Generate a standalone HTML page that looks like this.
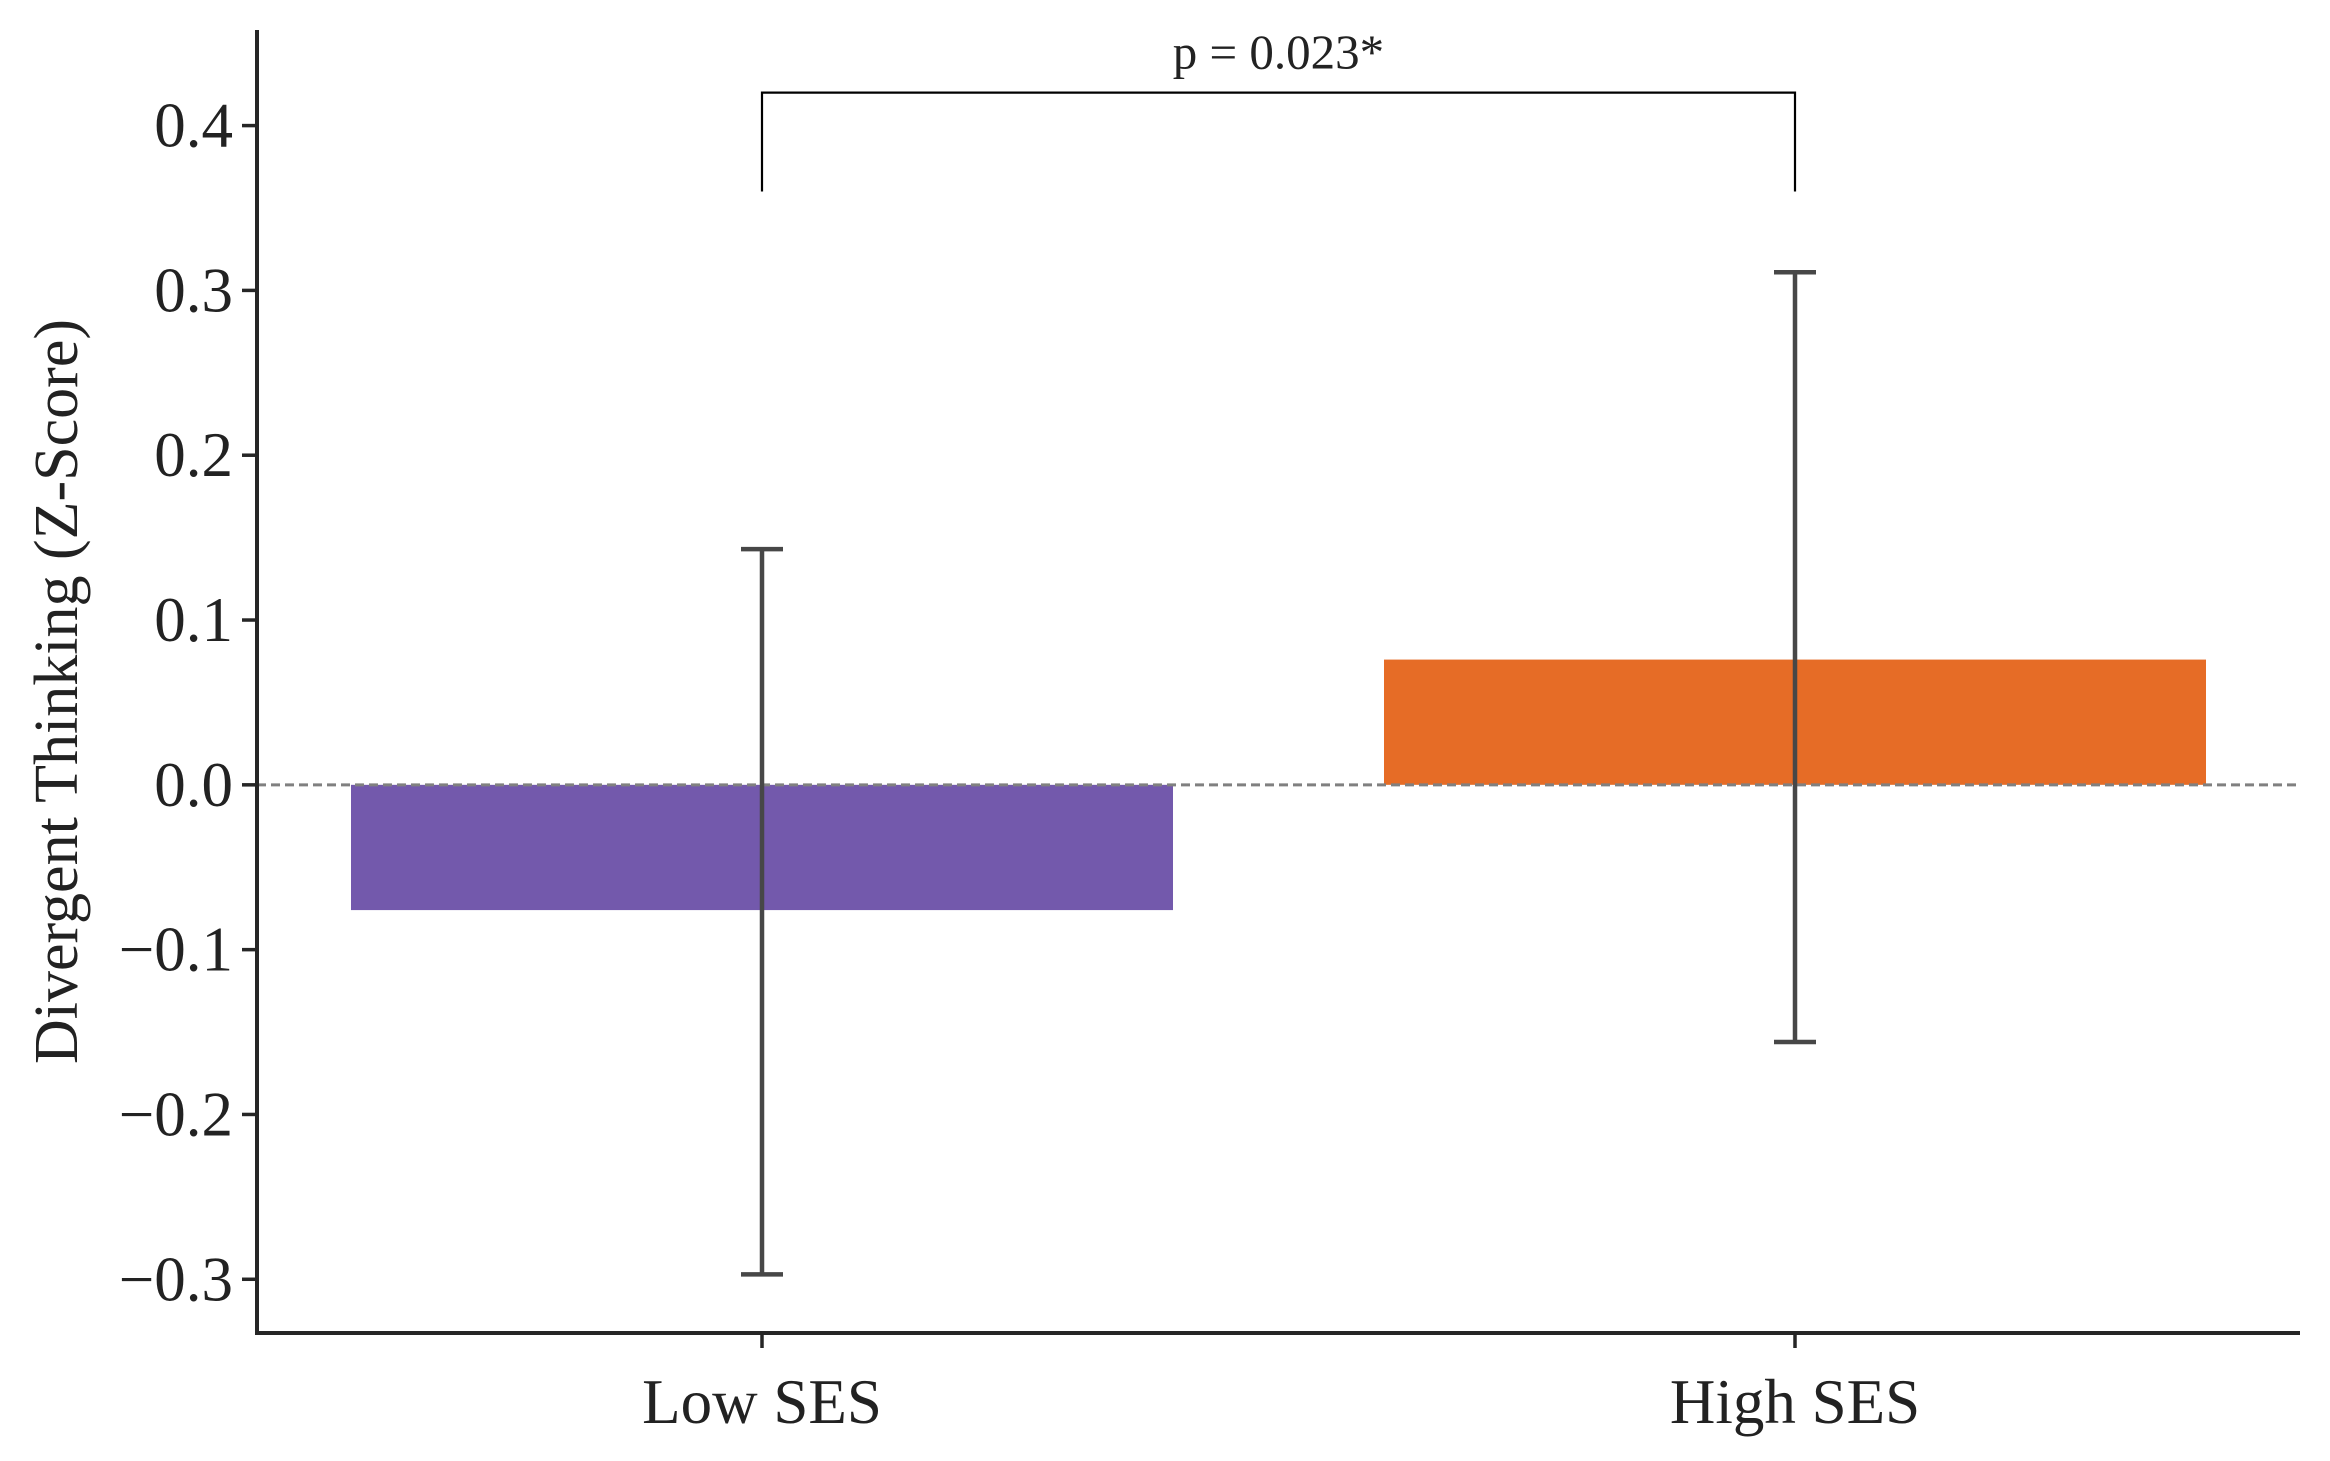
<!DOCTYPE html>
<html><head><meta charset="utf-8"><style>
html,body{margin:0;padding:0;background:#fff}
svg{display:block;font-family:"Liberation Serif",serif}
</style></head><body>
<svg id="chart" width="2330" height="1461" viewBox="0 0 2330 1461">
<g id="marks"></g>
</svg>
<script>
const categories = ["Low SES", "High SES"];
const means = [-0.076, 0.076];
const errLow = [-0.297, -0.156];
const errHigh = [0.143, 0.311];
const colors = ["#7359ac", "#e66c26"];
const yTicks = [-0.3, -0.2, -0.1, 0.0, 0.1, 0.2, 0.3, 0.4];
const yTickLabels = ["\u22120.3", "\u22120.2", "\u22120.1", "0.0", "0.1", "0.2", "0.3", "0.4"];
const pLabel = "p = 0.023*";
const bracketTop = 0.42, bracketBottom = 0.36;

const NS = "http://www.w3.org/2000/svg";
const svg = document.getElementById("chart");
const L = 257, R = 2300, T = 30, B = 1333;
const yMin = -0.3326, yMax = 0.458;
const y = v => B - (v - yMin) / (yMax - yMin) * (B - T);
const xc = i => 762 + i * (1795 - 762);
const barW = 822;
function el(tag, attrs, parent) {
  const e = document.createElementNS(NS, tag);
  for (const k in attrs) e.setAttribute(k, attrs[k]);
  (parent || svg).appendChild(e);
  return e;
}
categories.forEach((c, i) => {
  const y0 = y(0), y1 = y(means[i]);
  const b = el("rect", {x: xc(i) - barW / 2, y: Math.min(y0, y1), width: barW, height: Math.abs(y1 - y0), fill: colors[i]});
  
  
});
const z = el("line", {x1: L, x2: R, y1: y(0), y2: y(0), stroke: "#808080", "stroke-width": 3, "stroke-dasharray": "9,5"});


categories.forEach((c, i) => {
  const g = el("g", {stroke: "#474747", "stroke-width": 4.5});
  
  
  el("line", {x1: xc(i), x2: xc(i), y1: y(errLow[i]), y2: y(errHigh[i])}, g);
  el("line", {x1: xc(i) - 21, x2: xc(i) + 21, y1: y(errLow[i]), y2: y(errLow[i])}, g);
  el("line", {x1: xc(i) - 21, x2: xc(i) + 21, y1: y(errHigh[i]), y2: y(errHigh[i])}, g);
});
const br = el("polyline", {points: `${xc(0)},${y(bracketBottom)} ${xc(0)},${y(bracketTop)} ${xc(1)},${y(bracketTop)} ${xc(1)},${y(bracketBottom)}`, fill: "none", stroke: "#000", "stroke-width": 2.2});


const pt = el("text", {x: (xc(0) + xc(1)) / 2, y: y(bracketTop) - 24, "text-anchor": "middle", "font-size": 49, fill: "#222"});
pt.textContent = pLabel;


const ax = el("path", {d: `M${L},${T} L${L},${B} L${R},${B}`, fill: "none", stroke: "#262626", "stroke-width": 4});


yTicks.forEach((t, i) => {
  el("line", {x1: L - 15, x2: L, y1: y(t), y2: y(t), stroke: "#262626", "stroke-width": 3.5});
  const tx = el("text", {x: L - 24, y: y(t) + 21, "text-anchor": "end", "font-size": 63, fill: "#222"});
  tx.textContent = yTickLabels[i];
  
  
});
categories.forEach((c, i) => {
  el("line", {x1: xc(i), x2: xc(i), y1: B, y2: B + 15, stroke: "#262626", "stroke-width": 3.5});
  const tx = el("text", {x: xc(i), y: B + 90, "text-anchor": "middle", "font-size": 63, fill: "#222"});
  tx.textContent = c;
  
  
});
const yl = el("text", {x: 0, y: 0, transform: `translate(77,${(T + B) / 2 + 10}) rotate(-90)`, "text-anchor": "middle", "font-size": 62, fill: "#222"});
yl.textContent = "Divergent Thinking (Z-Score)";


</script>
</body></html>
